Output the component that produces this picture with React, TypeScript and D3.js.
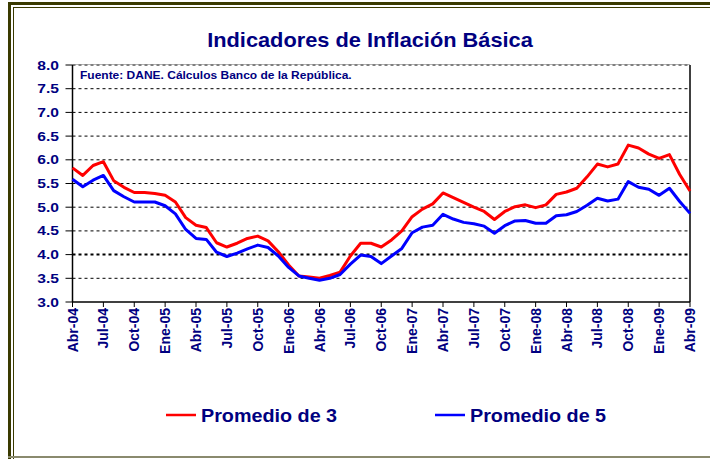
import * as d3 from 'd3';

const MONTH_NAMES = ['Ene', 'Feb', 'Mar', 'Abr', 'May', 'Jun', 'Jul', 'Ago', 'Sep', 'Oct', 'Nov', 'Dic'];

// Abr-04 .. Abr-09, one value per month
const promedio3 = [
  5.83, 5.67, 5.88, 5.96, 5.56, 5.42, 5.31, 5.31, 5.29,
  5.25, 5.11, 4.78, 4.62, 4.57, 4.25, 4.16, 4.24, 4.34, 4.39, 4.29, 4.06,
  3.78, 3.55, 3.53, 3.5, 3.56, 3.63, 3.97, 4.24, 4.24, 4.16, 4.31, 4.5,
  4.8, 4.96, 5.07, 5.3, 5.2, 5.1, 5.0, 4.91, 4.74, 4.91, 5.01, 5.05,
  4.99, 5.05, 5.27, 5.32, 5.4, 5.64, 5.91, 5.85, 5.91, 6.31, 6.25, 6.12,
  6.03, 6.11, 5.69, 5.34,
];

const promedio5 = [
  5.59, 5.43, 5.57, 5.67, 5.35, 5.22, 5.11, 5.11, 5.11,
  5.03, 4.86, 4.53, 4.34, 4.32, 4.05, 3.96, 4.03, 4.12, 4.2, 4.15, 3.97,
  3.73, 3.55, 3.5, 3.46, 3.5, 3.58, 3.8, 3.99, 3.96, 3.81, 3.97, 4.13,
  4.46, 4.58, 4.62, 4.85, 4.75, 4.68, 4.65, 4.6, 4.45, 4.61, 4.71, 4.72,
  4.66, 4.66, 4.82, 4.84, 4.91, 5.04, 5.19, 5.13, 5.17, 5.54, 5.42, 5.38,
  5.25, 5.4, 5.12, 4.87,
];

const yTicks = [3.0, 3.5, 4.0, 4.5, 5.0, 5.5, 6.0, 6.5, 7.0, 7.5, 8.0];

const xTickLabels = [
  'Abr-04', 'Jul-04', 'Oct-04', 'Ene-05', 'Abr-05', 'Jul-05', 'Oct-05', 'Ene-06', 'Abr-06', 'Jul-06', 'Oct-06',
  'Ene-07', 'Abr-07', 'Jul-07', 'Oct-07', 'Ene-08', 'Abr-08', 'Jul-08', 'Oct-08', 'Ene-09', 'Abr-09',
];

// month categories built from Abr-04 onwards
const categories = promedio3.map((_, i) => {
  const m = (3 + i) % 12;
  const y = 4 + Math.floor((3 + i) / 12);
  return `${MONTH_NAMES[m]}-${String(y).padStart(2, '0')}`;
});

const series = [
  { name: 'Promedio de 3', values: promedio3, color: '#ff0000' },
  { name: 'Promedio de 5', values: promedio5, color: '#0000ff' },
];

const W = 710;
const H = 459;
const plot = { left: 72.5, right: 690, top: 65, bottom: 302 };
const NAVY = '#000080';
const FONT = '"Liberation Sans", Arial, Helvetica, sans-serif';

export default function App() {
  const x = d3.scalePoint<string>().domain(categories).range([plot.left, plot.right]);
  const y = d3.scaleLinear().domain([3, 8]).range([plot.bottom, plot.top]);
  const line = d3.line<number>()
    .x((_, i) => x(categories[i]) ?? 0)
    .y((v) => y(v));

  return (
    <svg width={W} height={H} style={{ position: 'absolute', left: 0, top: 0, background: '#fff' }} fontFamily={FONT}>
      {/* frame */}
      <line x1={9.5} x2={9.5} y1={2} y2={459} stroke="#3a3a00" strokeWidth={3} />
      <line x1={8} x2={720} y1={3.5} y2={3.5} stroke="#3a3a00" strokeWidth={3} />
      <line x1={13.5} x2={13.5} y1={7} y2={459} stroke="#3a3a00" strokeWidth={1} />
      <line x1={13} x2={720} y1={7.5} y2={7.5} stroke="#3a3a00" strokeWidth={1} />
      <line x1={8} x2={720} y1={457} y2={457} stroke="#8a8a6e" strokeWidth={2} />

      <text transform={`translate(370,47) scale(1.09,1)`} textAnchor="middle" fontSize={20} fontWeight="bold" fill={NAVY}>
        Indicadores de Inflación Básica
      </text>

      {/* gridlines */}
      {yTicks.filter((t) => t > 3).map((t) => (
        <line key={`g-${t}`} x1={plot.left} x2={plot.right} y1={y(t)} y2={y(t)}
          stroke="#000" strokeWidth={t === 4 ? 2 : 1} strokeDasharray="3,3" />
      ))}
      <line x1={plot.left} x2={plot.right} y1={plot.top - 0.5} y2={plot.top - 0.5} stroke="#808080" strokeWidth={1} opacity={0.6} />
      <line x1={plot.right} x2={plot.right} y1={plot.top} y2={plot.bottom} stroke="#000" strokeWidth={1.5} />

      {/* axes */}
      <line x1={plot.left} x2={plot.left} y1={plot.top} y2={plot.bottom} stroke="#000" strokeWidth={1.5} />
      <line x1={plot.left} x2={plot.right} y1={plot.bottom} y2={plot.bottom} stroke="#000" strokeWidth={1.5} />
      {yTicks.map((t) => (
        <g key={`y-${t}`}>
          <line x1={plot.left - 7} x2={plot.left} y1={y(t)} y2={y(t)} stroke="#000" />
          <text transform={`translate(59,${y(t) + 4.5}) scale(1.25,1)`} textAnchor="end" fontSize={12.5} fontWeight="bold" fill={NAVY}>
            {t.toFixed(1)}
          </text>
        </g>
      ))}
      {xTickLabels.map((lab) => {
        const px = x(lab) ?? 0;
        return (
          <g key={lab}>
            <line x1={px} x2={px} y1={plot.bottom} y2={plot.bottom + 5} stroke="#000" />
            <text transform={`translate(${px + 5},${plot.bottom + 6}) rotate(-90)`} textAnchor="end" fontSize={14} fontWeight="bold" fill={NAVY}>
              {lab}
            </text>
          </g>
        );
      })}

      <text transform="translate(80,79) scale(1.2,1)" fontSize={10} fontWeight="bold" fill={NAVY}>
        Fuente: DANE. Cálculos Banco de la República.
      </text>

      {series.map((s) => (
        <path key={s.name} d={line(s.values) ?? undefined} fill="none" stroke={s.color} strokeWidth={3} strokeLinejoin="round" />
      ))}

      {/* legend */}
      {series.map((s, i) => {
        const lx = i === 0 ? 166 : 435;
        return (
          <g key={`lg-${s.name}`}>
            <line x1={lx} x2={lx + 30} y1={415} y2={415} stroke={s.color} strokeWidth={2.5} />
            <text transform={`translate(${lx + 35},422.3) scale(1.04,1)`} fontSize={19} fontWeight="bold" fill={NAVY}>
              {s.name}
            </text>
          </g>
        );
      })}
    </svg>
  );
}
